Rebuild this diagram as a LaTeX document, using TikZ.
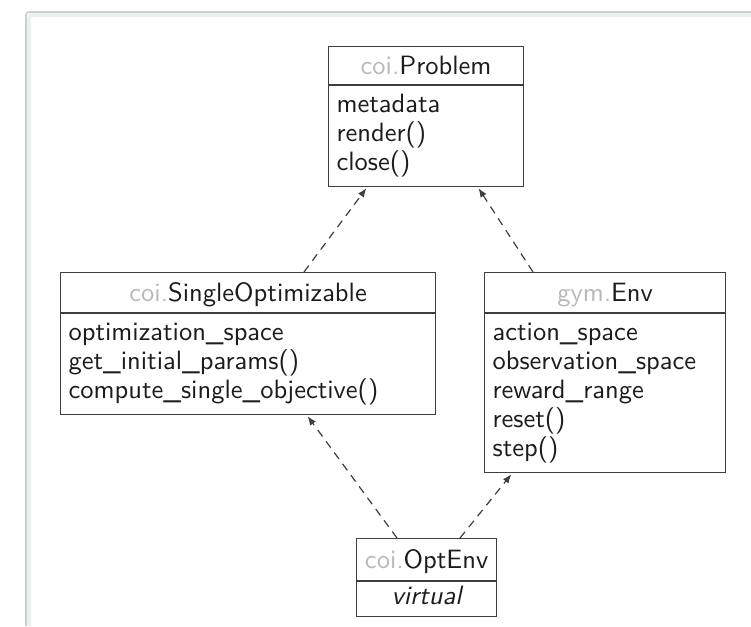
\documentclass[tikz,border=0pt]{standalone}
\usepackage{fontspec}
\usetikzlibrary{arrows.meta,calc}
\newfontfamily\umlfont{lmsans10-regular.otf}[ItalicFont=lmsans10-oblique.otf]

\definecolor{umlline}{RGB}{62,62,62}
\definecolor{umltext}{RGB}{28,28,28}
\definecolor{pkgtext}{RGB}{185,185,185}
\definecolor{framedark}{RGB}{205,208,208}
\definecolor{framelight}{RGB}{236,240,240}

% package prefix shown in light grey before a class name
\newcommand\pkg[1]{\textcolor{pkgtext}{#1.}}
% fixed line strut: 20pt above the baseline, 9pt below
\newcommand\rowstrut{\rule[-9pt]{0pt}{29pt}}

\tikzset{
  umlfontset/.style={font=\umlfont\fontsize{26.5}{29}\selectfont},
  umltitle/.style={draw=umlline, line width=1.2pt, rectangle, inner sep=0pt,
    text=umltext, umlfontset, anchor=north west,
    text height=18.5pt, text depth=0pt},
  umlbody/.style={draw=umlline, line width=1.2pt, rectangle, inner xsep=8pt,
    inner ysep=0pt, text=umltext, umlfontset, anchor=north west, align=left},
  inherit/.style={draw=umlline, line width=1.2pt, dash pattern=on 8pt off 6pt,
    -{Latex[length=9pt,width=7pt]}, shorten >=1pt},
}

\begin{document}
\begin{tikzpicture}[x=1pt,y=-1pt]
  \useasboundingbox (0,0) rectangle (751,626);

  % page frame
  \draw[framelight, line width=4pt, rounded corners=3pt]
    (29,626) -- (29,15) -- (751,15);
  \draw[framedark, line width=1.6pt, rounded corners=3pt]
    (26,626) -- (26,12) -- (751,12);

  % coi.Problem
  \node[umltitle, minimum width=195pt, minimum height=38pt] (prob) at (328,46)
    {\pkg{coi}Problem};
  \node[umlbody, text width=179pt, minimum height=101pt] (prob-body) at (prob.south west)
    {\rowstrut metadata\\ \rowstrut render()\\ \rowstrut close()};

  % coi.SingleOptimizable
  \node[umltitle, minimum width=375pt, minimum height=40pt] (so) at (60,272)
    {\pkg{coi}SingleOptimizable};
  \node[umlbody, text width=359pt, minimum height=101pt] (so-body) at (so.south west)
    {\rowstrut optimization\_space\\ \rowstrut get\_initial\_params()\\
     \rowstrut compute\_single\_objective()};

  % gym.Env
  \node[umltitle, minimum width=241pt, minimum height=40pt] (env) at (484,272)
    {\pkg{gym}Env};
  \node[umlbody, text width=225pt, minimum height=159pt] (env-body) at (env.south west)
    {\rowstrut action\_space\\ \rowstrut observation\_space\\ \rowstrut reward\_range\\
     \rowstrut reset()\\ \rowstrut step()};

  % coi.OptEnv
  \node[umltitle, minimum width=140pt, minimum height=42pt] (opt) at (356,538)
    {\pkg{coi}OptEnv};
  \node[umlbody, text width=124pt, minimum height=35pt, align=center] (opt-body)
    at (opt.south west) {\rowstrut\itshape virtual};

  % inheritance connectors
  \draw[inherit] ($(so.north west)+(244,0)$) -- ($(prob-body.south west)+(39,0)$);
  \draw[inherit] ($(env.north west)+(49,0)$) -- ($(prob-body.south west)+(150,0)$);
  \draw[inherit] ($(opt.north west)+(41,0)$) -- ($(so-body.south west)+(247,0)$);
  \draw[inherit] ($(opt.north west)+(104,0)$) -- ($(env-body.south west)+(28,0)$);
\end{tikzpicture}
\end{document}
